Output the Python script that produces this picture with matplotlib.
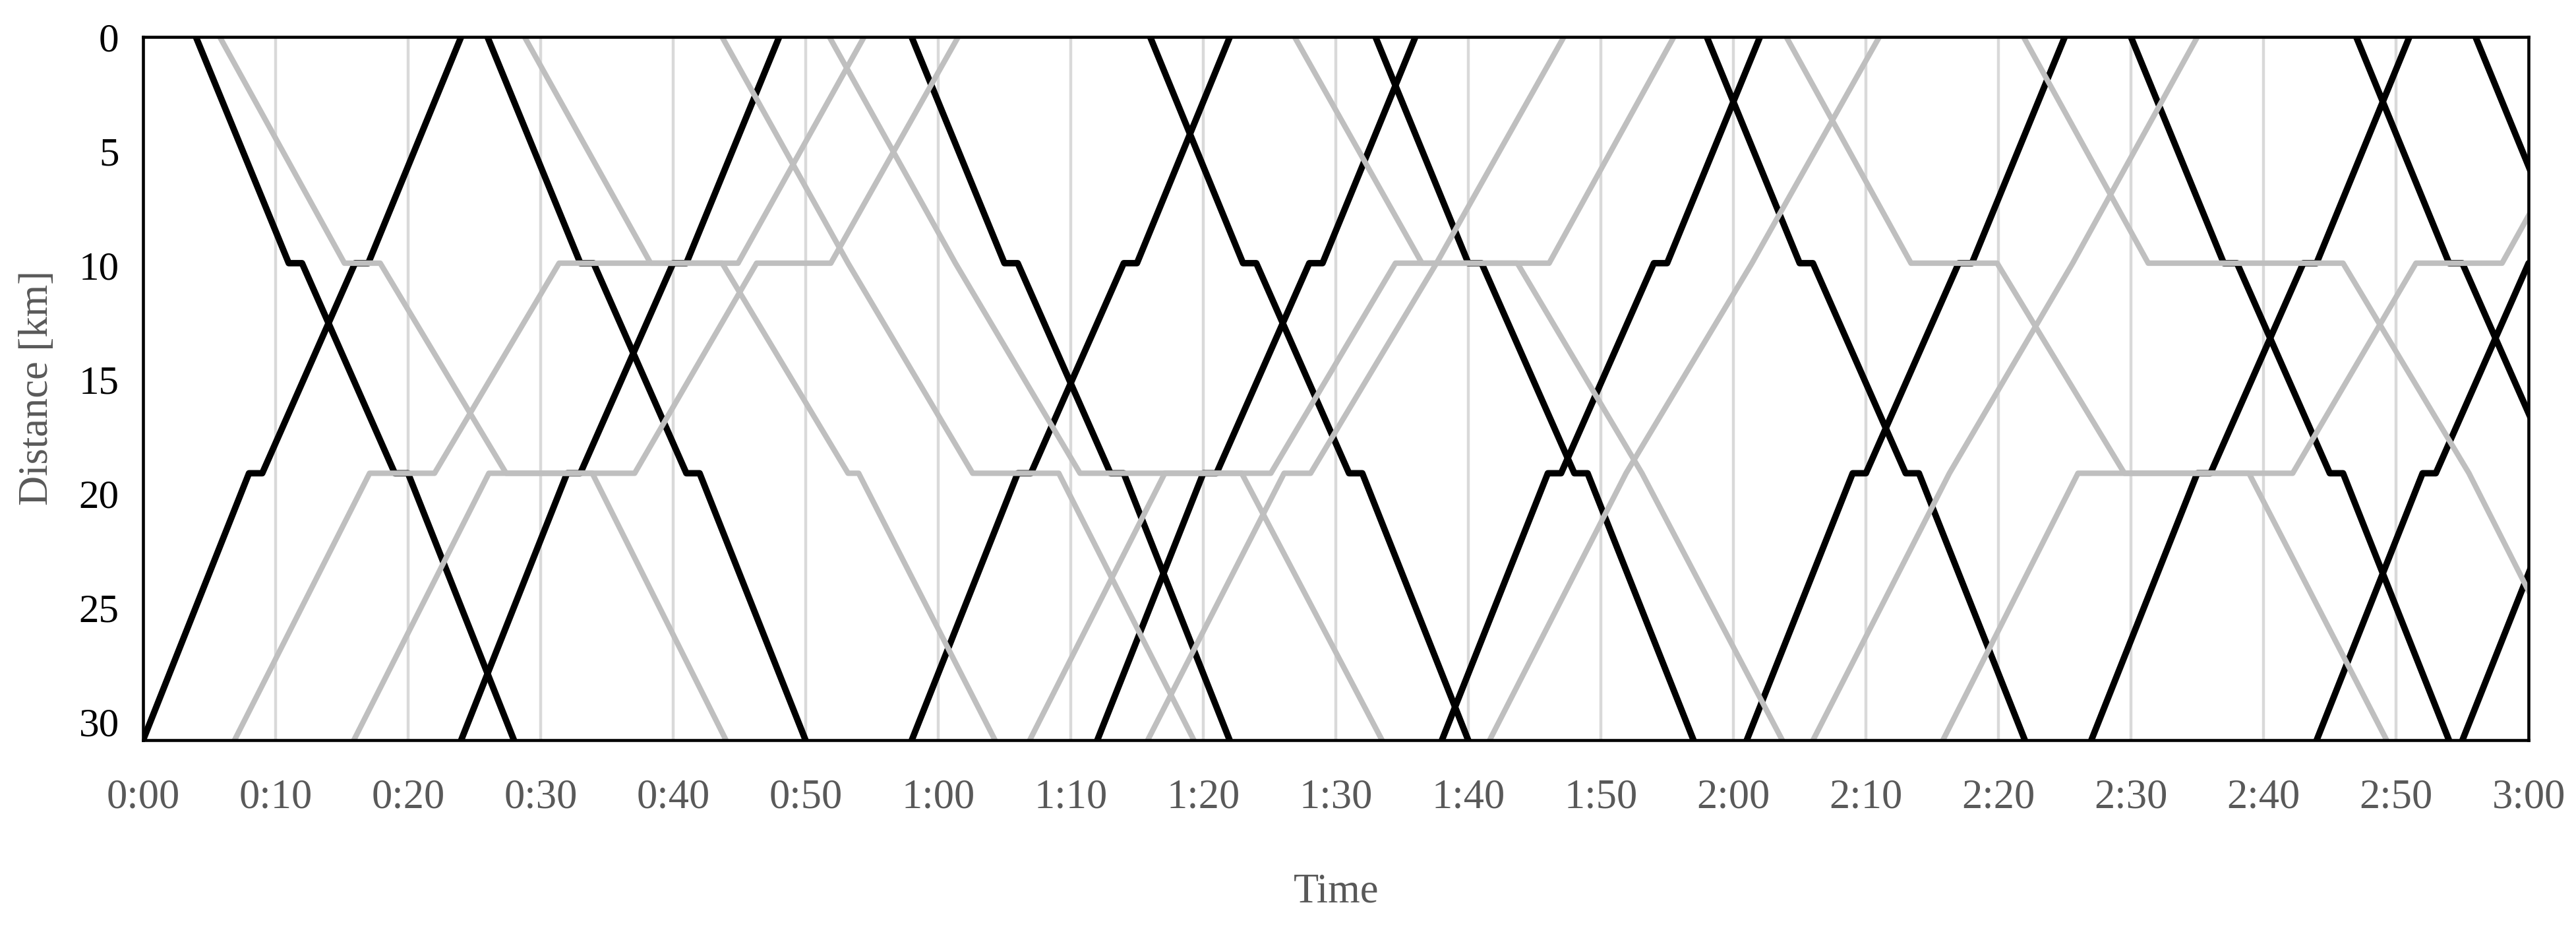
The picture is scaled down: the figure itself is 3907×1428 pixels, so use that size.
import matplotlib
matplotlib.use("Agg")
import matplotlib.pyplot as plt

# station positions along the line [km]
stations = [0, 9.9, 19.1, 30.8]

# black (fast) trains, times in minutes after 0:00
# down: dep S0, arr S1, dep S1, arr S2, dep S2, arr S3
black_down = [
    [4, 11, 12, 19, 20, 28],
    [26, 33, 34, 41, 42, 50],
    [58, 65, 66, 73, 74, 82],
    [76, 83, 84, 91, 92, 100],
    [93, 100, 101, 108, 109, 117],
    [118, 125, 126, 133, 134, 142],
    [150, 157, 158, 165, 166, 174],
    [167, 174, 175, 182, 183, 191],
    [176, 183, 184, 191, 192, 200],
]
# up: dep S3, arr S2, dep S2, arr S1, dep S1, arr S0
black_up = [
    [0, 8, 9, 16, 17, 24],
    [24, 32, 33, 40, 41, 48],
    [58, 66, 67, 74, 75, 82],
    [72, 80, 81, 88, 89, 96],
    [98, 106, 107, 114, 115, 122],
    [121, 129, 130, 137, 138, 145],
    [147, 155, 156, 163, 164, 171],
    [164, 172, 173, 180, 181, 188],
    [175, 183, 184, 191, 192, 199],
]

# gray (slow) trains
gray_down = [
    [5.8, 15.2, 17.9, 27.4, 33.9, 44.0],
    [28.8, 38.3, 43.7, 53.2, 54.0, 64.3],
    [43.7, 53.2, 53.2, 62.6, 69.1, 79.3],
    [51.8, 61.3, 61.3, 70.7, 82.9, 93.5],
    [86.9, 96.5, 103.7, 113.1, 113.1, 123.7],
    [124.0, 133.4, 139.9, 149.5, 158.9, 169.3],
    [141.9, 151.3, 166.0, 175.5, 175.5, 185.7],
]
gray_up = [
    [6.9, 17.1, 22.0, 31.4, 44.9, 54.4],
    [15.9, 26.1, 37.1, 46.3, 51.9, 61.5],
    [66.9, 77.1, 85.1, 94.5, 106.1, 115.5],
    [75.8, 86.1, 88.1, 97.6, 97.6, 107.2],
    [101.6, 111.9, 111.9, 121.4, 121.4, 131.0],
    [126.0, 136.3, 136.3, 145.6, 145.6, 155.0],
    [135.8, 146.0, 162.2, 171.5, 178.0, 187.5],
]

tick_minutes = [0, 10, 20, 30, 40, 50, 60, 70, 80, 90, 100, 110, 120,
                130, 140, 150, 160, 170, 180]
tick_labels = ["0:00", "0:10", "0:20", "0:30", "0:40", "0:50", "1:00",
               "1:10", "1:20", "1:30", "1:40", "1:50", "2:00", "2:10",
               "2:20", "2:30", "2:40", "2:50", "3:00"]
dist_ticks = [0, 5, 10, 15, 20, 25, 30]

# distances of the six timetable points
d_down = [stations[0], stations[1], stations[1], stations[2], stations[2], stations[3]]
d_up = d_down[::-1]

plt.rcParams['font.family'] = ['Liberation Serif', 'DejaVu Serif']

fig = plt.figure(figsize=(39.07, 14.28), dpi=100)
ax = fig.add_axes([0.0555, 0.214, 0.9261, 0.7466])

for times in black_down:
    ax.plot(times, d_down, color='black', lw=7, solid_joinstyle='round', zorder=3)
for times in black_up:
    ax.plot(times, d_up, color='black', lw=7, solid_joinstyle='round', zorder=3)
for times in gray_down:
    ax.plot(times, d_down, color='#bfbfbf', lw=6, solid_joinstyle='round', zorder=4)
for times in gray_up:
    ax.plot(times, d_up, color='#bfbfbf', lw=6, solid_joinstyle='round', zorder=4)

ax.set_xlim(0, 180)
ax.set_ylim(stations[-1], 0)

ax.set_xticks(tick_minutes)
ax.set_xticklabels(tick_labels)
ax.set_yticks(dist_ticks)
ax.grid(axis='x', color='#d9d9d9', lw=3.2)
ax.set_axisbelow(True)

ax.tick_params(axis='x', length=0, pad=42, labelsize=45, labelcolor='#595959')
ax.tick_params(axis='y', length=0, pad=26, labelsize=44, labelcolor='black')

for side in ['top', 'bottom', 'left', 'right']:
    ax.spines[side].set_color('black')
    ax.spines[side].set_linewidth(3.3)
    ax.spines[side].set_zorder(5)

fig.text(0.5186, 1 - 1352 / 1428, "Time", ha='center', va='center',
         fontsize=45, color='#595959')
fig.text(57 / 3907, 1 - 588 / 1428, "Distance [km]", ha='center', va='center',
         rotation=90, fontsize=45, color='#595959')

fig.savefig('out.png', dpi=100)
